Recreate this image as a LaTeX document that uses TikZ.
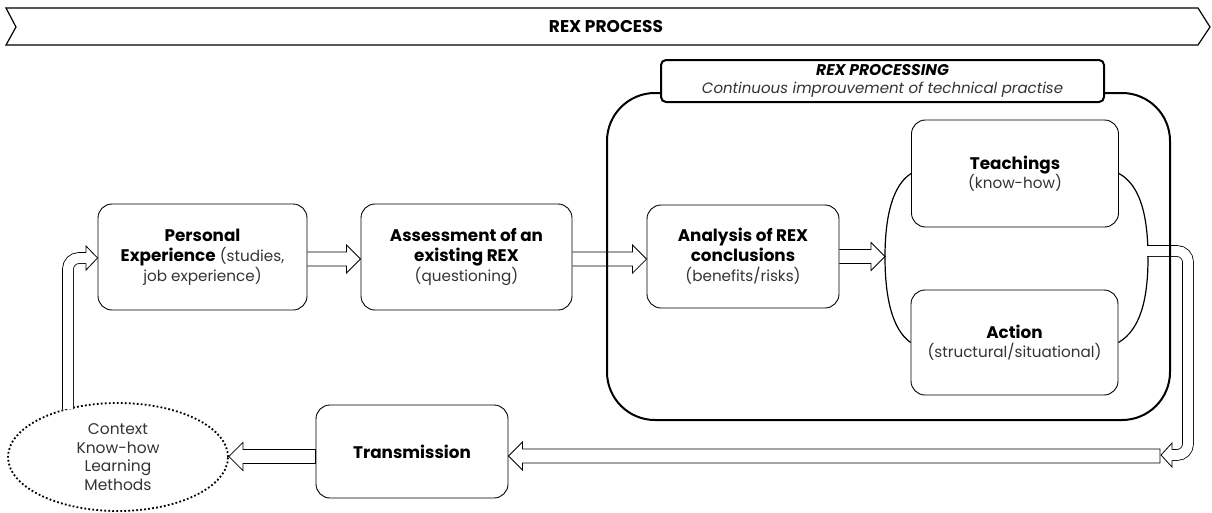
\documentclass[tikz,border=0pt]{standalone}
\usepackage{fontspec}
\setmainfont{Poppins}
\usetikzlibrary{calc,shapes.geometric}
\newcommand{\bft}[1]{{\fontsize{16.8}{20}\selectfont\bfseries\color{black}#1}}
\newcommand{\rarrow}[2]{\draw[arrowline] let \p1=(#1), \p2=(#2) in (\x1,\y1+7pt) -- (\x2-14pt,\y1+7pt) -- (\x2-14pt,\y1+14pt) -- (\x2,\y1) -- (\x2-14pt,\y1-14pt) -- (\x2-14pt,\y1-7pt) -- (\x1,\y1-7pt);}
\newcommand{\larrow}[2]{\draw[arrowline] let \p1=(#1), \p2=(#2) in (\x1,\y1+7pt) -- (\x2+14pt,\y1+7pt) -- (\x2+14pt,\y1+14pt) -- (\x2,\y1) -- (\x2+14pt,\y1-14pt) -- (\x2+14pt,\y1-7pt) -- (\x1,\y1-7pt) -- cycle;}
\begin{document}
\begin{tikzpicture}[x=1pt,y=-1pt,
  box/.style={draw, line width=0.9pt, rounded corners=14pt, align=center, inner sep=2pt,
    font=\fontsize{15.2}{20}\selectfont, text=black!80},
  arrowline/.style={draw, line width=0.8pt, line join=miter},
  pipe/.style={draw=black, line width=0.8pt, double=white, double distance=10pt, rounded corners=11pt},
  headpoly/.style={draw, line width=0.8pt, fill=white, line join=miter},
  bracket/.style={draw, line width=1.2pt}
]
\useasboundingbox (0,0) rectangle (1212,512);

% banner
\draw[line width=1.2pt, fill=white] (6,8) -- (1198,8) -- (1210,27) -- (1198,45) -- (6,45) -- (16,27) -- cycle;
\node[font=\fontsize{17}{18}\selectfont\bfseries] (banner) at (606,27) {REX PROCESS};

% nodes
\node[box, minimum width=209pt, minimum height=106pt] (pe) at (202.5,257)
  {\bft{Personal}\\ \bft{Experience} (studies,\\ job experience)};
\node[box, minimum width=211pt, minimum height=106pt] (as) at (466.5,257)
  {\bft{Assessment of an}\\ \bft{existing REX}\\ (questioning)};
\node[box, minimum width=192pt, minimum height=103pt] (an) at (743,256.5)
  {\bft{Analysis of REX}\\ \bft{conclusions}\\ (benefits/risks)};
\node[box, minimum width=207pt, minimum height=107pt] (te) at (1015,173.5)
  {\bft{Teachings}\\[-1pt] (know-how)};
\node[box, minimum width=207pt, minimum height=105pt] (ac) at (1014.5,342.5)
  {\bft{Action}\\[-1pt] (structural/situational)};
\node[box, minimum width=192pt, minimum height=93pt] (tr) at (412,451.5)
  {\bft{Transmission}};
\node[ellipse, draw, line width=1.8pt, dash pattern=on 1.8pt off 2.2pt,
  minimum width=220pt, minimum height=108pt, align=center, inner sep=0pt,
  font=\fontsize{15.5}{18.5}\selectfont, text=black!80] (ctx) at (118,457)
  {Context\\Know-how\\Learning\\Methods};

\coordinate (brL) at (885,257);
\coordinate (rstart) at (1147,251);
\coordinate (rbot) at (1188,455);
\coordinate (rhead) at (1172,455);
\coordinate (barend) at (1160,456);
\coordinate (lstart) at (68,409);
\coordinate (lhead) at (86,258);

% bracket arcs
\draw[bracket] (te.west) .. controls (893,185) and (885,215) .. (brL)
  .. controls (885,300) and (893,330) .. (ac.west);
\draw[bracket] (te.east) .. controls (1140,185) and (1148,215) .. (1148,258)
  .. controls (1148,300) and (1140,330) .. (ac.east);

% straight hollow arrows
\rarrow{[yshift=-2pt]pe.east}{as.west}
\rarrow{[yshift=-2pt]as.east}{an.west}
\rarrow{an.east}{brL}
\larrow{barend}{tr.east}
\larrow{[yshift=-5pt]tr.west}{ctx.east}

% right feedback pipe
\draw[pipe] (rstart) -| (rbot) -- (rhead);
\draw[headpoly] (1172,449.6) -- (1172,443) -- (1161,455) -- (1172,467) -- (1172,460.4);
\fill[white] (1172.4,449.8) rectangle (1174,460.2);

% left feedback pipe
\draw[pipe] (lstart) |- (lhead);
\draw[headpoly] (86,252.6) -- (86,246) -- (pe.west |- lhead) -- (86,270) -- (86,263.4);
\fill[white] (84.4,252.8) rectangle (85.6,263.2);

% big processing box
\node[draw, line width=2pt, rounded corners=48pt, minimum width=563pt, minimum height=327pt,
  inner sep=0pt] (big) at (888.5,256.5) {};
% header
\node[draw, fill=white, line width=2pt, rounded corners=5pt, minimum width=443pt,
  minimum height=42pt, align=center, inner sep=0pt, font=\fontsize{15}{18}\selectfont] (hdr) at (882.5,81)
  {{\fontsize{15.5}{18}\selectfont\bfseries\itshape REX PROCESSING}\\ \textcolor{black!80}{\itshape Continuous improuvement of technical practise}};
\end{tikzpicture}
\end{document}
